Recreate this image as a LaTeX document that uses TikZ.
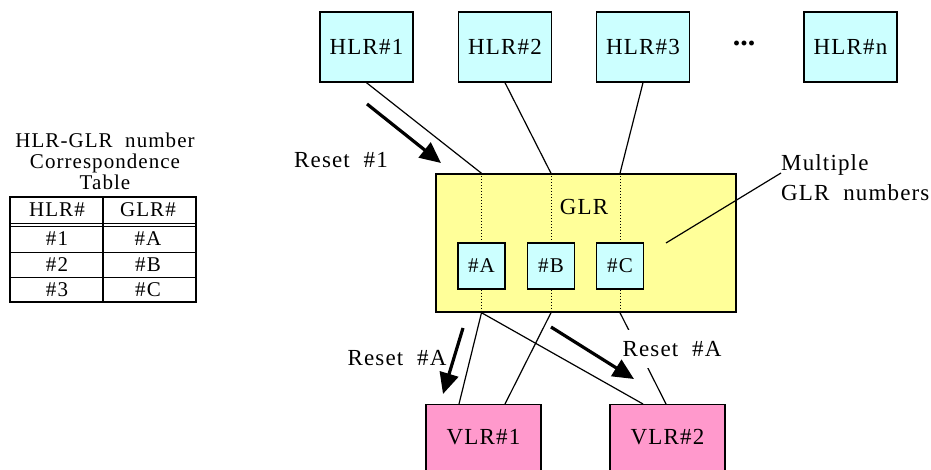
\documentclass[tikz,border=0pt]{standalone}
\usepackage{fontspec}
\setmainfont{Liberation Serif}[LetterSpace=5,WordSpace=2]
\newfontfamily\dotsfont{Liberation Serif}[LetterSpace=0]
\usetikzlibrary{arrows.meta,calc}
\definecolor{hlrcyan}{HTML}{CCFFFF}
\definecolor{glryellow}{HTML}{FFFF99}
\definecolor{vlrpink}{HTML}{FF99CC}
\tikzset{
  box/.style={draw=black, line width=1.4bp, inner sep=0pt},
  hlr/.style={box, fill=hlrcyan, minimum width=93bp, minimum height=70bp},
  sub/.style={box, fill=hlrcyan, minimum width=47bp, minimum height=46bp},
  vlr/.style={box, fill=vlrpink, minimum width=115bp, minimum height=80bp, anchor=north},
  txt/.style={font=\fontsize{23bp}{27bp}\selectfont, inner sep=1bp},
  subtxt/.style={font=\fontsize{21bp}{25bp}\selectfont},
  tabtxt/.style={font=\fontsize{21bp}{22bp}\selectfont, inner sep=0pt},
  conn/.style={line width=1.2bp},
  dotline/.style={line width=1bp, dotted},
  bigarrow/.style={line width=3.2bp, -{Triangle[length=21bp,width=19bp]}},
}
\begin{document}
\begin{tikzpicture}[x=1bp,y=-1bp]
\clip (0,0) rectangle (931,470);
\fill[white] (0,0) rectangle (931,470);
% HLR boxes
\node[hlr, txt] (H1) at (366.5,47) {HLR\#1};
\node[hlr, txt] (H2) at (505,47) {HLR\#2};
\node[hlr, txt] (H3) at (643,47) {HLR\#3};
\node[hlr, txt] (Hn) at (850.5,47) {HLR\#n};
\node[inner sep=0pt, font=\dotsfont\fontsize{30bp}{30bp}\selectfont\bfseries] (dots) at (744,43) {...};
% GLR
\node[box, fill=glryellow, minimum width=300bp, minimum height=138bp] (GLR) at (586,243) {};
\node[txt] (glrlabel) at (584,207) {GLR};
\node[sub, txt, subtxt] (A) at (481.5,266) {\#A};
\node[sub, txt, subtxt] (B) at (551,266) {\#B};
\node[sub, txt, subtxt] (C) at (620,266) {\#C};
% dotted lines through GLR
\draw[dotline] (A |- GLR.north) -- (A.north);
\draw[dotline] (A.south) -- (A |- GLR.south);
\draw[dotline] (B |- GLR.north) -- (B.north);
\draw[dotline] (B.south) -- (B |- GLR.south);
\draw[dotline] (C |- GLR.north) -- (C.north);
\draw[dotline] (C.south) -- (C |- GLR.south);
% VLR boxes
\node[vlr] (VLR1) at (483.5,404) {};
\node[vlr] (VLR2) at (667.5,404) {};
\node[txt] (VLR1t) at ($(VLR1.north)+(0,33)$) {VLR\#1};
\node[txt] (VLR2t) at ($(VLR2.north)+(0,33)$) {VLR\#2};
% connectors HLR -> GLR
\draw[conn] (H1.south) -- (A |- GLR.north);
\draw[conn] (H2.south) -- (B |- GLR.north);
\draw[conn] (H3.south) -- (C |- GLR.north);
% connectors GLR -> VLR
\draw[conn] (A |- GLR.south) -- ($(VLR1.north)+(-24.5,0)$);
\draw[conn] (A |- GLR.south) -- ($(VLR2.north)+(-24.5,0)$);
\draw[conn] (B |- GLR.south) -- ($(VLR1.north)+(21.5,0)$);
\draw[conn] (C |- GLR.south) -- ($(VLR2.north)+(-1.5,0)$);
% labels
\node[txt] (reset1) at (341,160) {Reset \#1};
\node[txt] (resetA1) at (397,358) {Reset \#A};
\node[txt, fill=white, inner ysep=11bp, inner xsep=1bp] (resetA2) at (672,349) {Reset \#A};
% thick arrows
\coordinate (r1s) at (367,104);
\coordinate (r1e) at (441,163);
\draw[bigarrow] (r1s) -- (r1e);
\coordinate (ra1s) at (463,328);
\coordinate (ra1e) at (443,394);
\draw[bigarrow] (ra1s) -- (ra1e);
\coordinate (ra2s) at (551,327);
\coordinate (ra2e) at (634,379);
\draw[bigarrow] (ra2s) -- (ra2e);
% multiple GLR numbers
\node[align=left, anchor=west, inner sep=0pt, font=\fontsize{23bp}{30bp}\selectfont] (multi) at (781,178) {Multiple\\GLR numbers};
\coordinate (mptr) at (666,243);
\draw[conn] (multi.west |- 0,173) -- (mptr);
% table
\node[align=center, inner sep=0pt, font=\fontsize{21bp}{21bp}\selectfont] (ttitle) at (105,161) {HLR-GLR number\\Correspondence\\Table};
\draw[line width=1.8bp] (10,197) rectangle (196,302);
\draw[line width=1.8bp] (103,197) -- (103,302);
\draw[line width=0.9bp] (10,223) -- (196,223);
\draw[line width=0.9bp] (10,226.5) -- (196,226.5);
\draw[line width=0.9bp] (10,252) -- (196,252);
\draw[line width=0.9bp] (10,277) -- (196,277);
\node[tabtxt] (th1) at (57,210) {HLR\#};
\node[tabtxt] (th2) at (148,210) {GLR\#};
\node[tabtxt] (t11) at (57,239) {\#1};
\node[tabtxt] (t12) at (148,239) {\#A};
\node[tabtxt] (t21) at (57,264.5) {\#2};
\node[tabtxt] (t22) at (148,264.5) {\#B};
\node[tabtxt] (t31) at (57,289.5) {\#3};
\node[tabtxt] (t32) at (148,289.5) {\#C};
\end{tikzpicture}
\end{document}
